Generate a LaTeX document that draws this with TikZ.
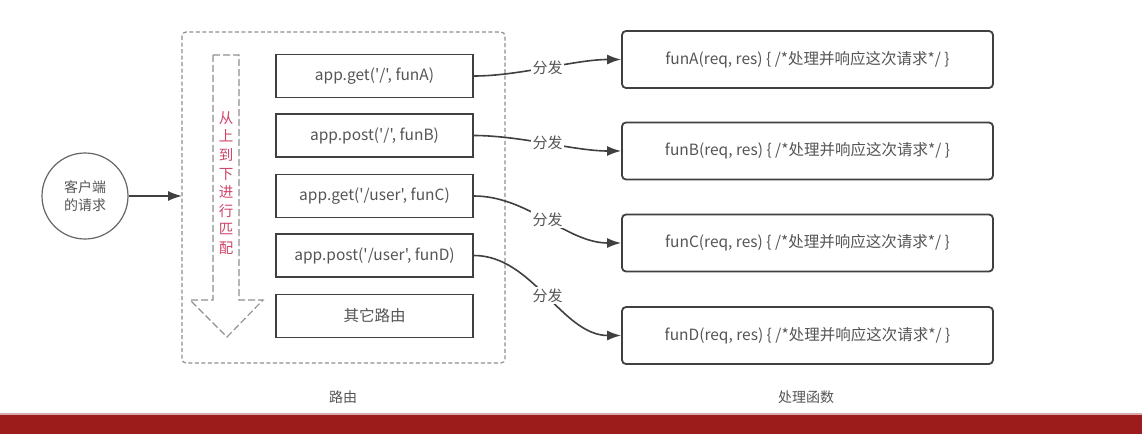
\documentclass[tikz,border=0pt]{standalone}
\usepackage{fontspec}
\newfontfamily\cjkf{Noto Sans CJK SC}
\usetikzlibrary{arrows.meta}
\definecolor{txt}{HTML}{555555}
\definecolor{ln}{HTML}{404040}
\definecolor{dsh}{HTML}{909090}
\definecolor{pinkred}{HTML}{D0456A}
\definecolor{barred}{HTML}{9B1C1A}
\definecolor{barlight}{HTML}{D9A8A8}
\tikzset{
  routebox/.style={draw=ln, line width=1.8pt, minimum width=197pt, minimum height=43pt, inner sep=0pt, text=txt, font=\cjkf\fontsize{15.5}{17}\selectfont},
  funbox/.style={draw=ln, line width=1.8pt, rounded corners=4pt, minimum width=371pt, minimum height=57pt, inner sep=0pt, text=txt, font=\cjkf\fontsize{15.5}{17}\selectfont},
  disp/.style={draw=ln, line width=1.6pt, -{Latex[length=14pt,width=10pt]}},
  displabel/.style={fill=white, inner sep=1.5pt, text=txt, font=\cjkf\fontsize{15}{17}\selectfont},
  caption/.style={text=txt, font=\cjkf\fontsize{14}{16}\selectfont}
}
\begin{document}
\begin{tikzpicture}[x=1pt,y=-1pt]
\useasboundingbox (0,0) rectangle (1142,434);
\fill[white] (0,0) rectangle (1142,434);
% red bar
\fill[barred] (0,415) rectangle (1142,434);
\fill[barlight] (0,412.5) rectangle (1142,415);
% client
\node[circle, draw=ln!80, line width=1.2pt, minimum size=86pt, inner sep=0pt, align=center, text=txt, font=\cjkf\fontsize{14}{18}\selectfont] (client) at (85,196) {客户端\\的请求};
% dashed container
\draw[dsh, line width=1.2pt, dash pattern=on 4pt off 2.5pt, rounded corners=4pt] (182,32) rectangle (505,363);
\coordinate (boxleft) at (182,196);
\draw[disp] (client.east) -- (boxleft);
% hollow dashed arrow
\draw[dsh, line width=1.1pt, dash pattern=on 7pt off 3pt] (213,55) -- (239,55) -- (239,300) -- (263,300) -- (227,337) -- (190,300) -- (213,300) -- cycle;
\node[text=pinkred, align=center, font=\cjkf\fontsize{14.5}{18.6}\selectfont, inner sep=0pt] (vtext) at (226,183) {从\\上\\到\\下\\进\\行\\匹\\配};
% route boxes
\node[routebox] (r1) at (374.5,76) {app.get('/', funA)};
\node[routebox] (r2) at (374.5,135.5) {app.post('/', funB)};
\node[routebox] (r3) at (374.5,196) {app.get('/user', funC)};
\node[routebox] (r4) at (374.5,255.5) {app.post('/user', funD)};
\node[routebox] (r5) at (374.5,316) {其它路由};
% handler boxes
\node[funbox] (fA) at (807.5,59.5) {funA(req, res) \{ /*处理并响应这次请求*/ \}};
\node[funbox] (fB) at (807.5,151) {funB(req, res) \{ /*处理并响应这次请求*/ \}};
\node[funbox] (fC) at (807.5,243) {funC(req, res) \{ /*处理并响应这次请求*/ \}};
\node[funbox] (fD) at (807.5,335.5) {funD(req, res) \{ /*处理并响应这次请求*/ \}};
% dispatch connectors
\draw[disp] (r1.east) to[out=0,in=180,looseness=0.8] node[displabel, pos=0.5] {分发} (fA.west);
\draw[disp] (r2.east) to[out=0,in=180,looseness=0.8] node[displabel, pos=0.5] {分发} (fB.west);
\draw[disp] (r3.east) to[out=0,in=180,looseness=0.9] node[displabel, pos=0.5] {分发} (fC.west);
\draw[disp] (r4.east) to[out=0,in=180,looseness=0.9] node[displabel, pos=0.5] {分发} (fD.west);
% captions
\node[caption] (cap1) at (343,397) {路由};
\node[caption] (cap2) at (806,397) {处理函数};
\end{tikzpicture}
\end{document}
